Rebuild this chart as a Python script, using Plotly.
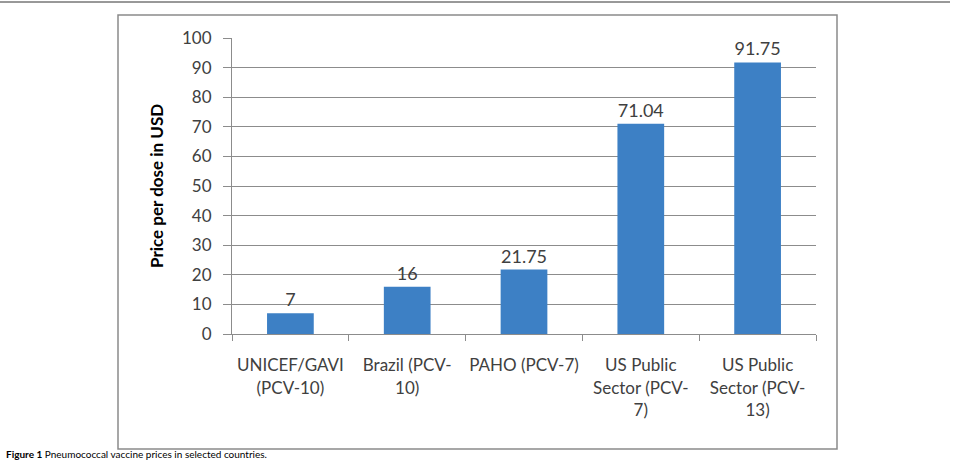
import plotly.graph_objects as go

categories = ["UNICEF/GAVI<br>(PCV-10)", "Brazil (PCV-<br>10)", "PAHO (PCV-7)",
              "US Public<br>Sector (PCV-<br>7)", "US Public<br>Sector (PCV-<br>13)"]
prices = [7, 16, 21.75, 71.04, 91.75]
price_labels = ["7", "16", "21.75", "71.04", "91.75"]
y_ticks = [0, 10, 20, 30, 40, 50, 60, 70, 80, 90, 100]

W, H = 957, 462
L, R, T, B = 232, 141, 38, 128
pw, ph = W - L - R, H - T - B

def px(x):
    return (x - L) / pw

def py(y):
    return (H - B - y) / ph

FONT = "Lato"
TXT = "#404040"

fig = go.Figure()
fig.add_trace(go.Bar(
    x=categories, y=prices, text=price_labels, textposition="outside",
    textfont=dict(family=FONT, size=18, color=TXT),
    marker=dict(color="#3D80C5", line=dict(width=0)),
    cliponaxis=False,
))

fig.update_layout(
    width=W, height=H,
    margin=dict(l=L, r=R, t=T, b=B),
    paper_bgcolor="white", plot_bgcolor="white",
    bargap=0.6, showlegend=False,
    font=dict(family=FONT, color=TXT),
    xaxis=dict(
        showline=True, linecolor="#8c8c8c", linewidth=1,
        ticks="outside", tickson="boundaries", ticklen=6, tickcolor="#8c8c8c",
        tickfont=dict(family=FONT, size=17, color=TXT),
        tickangle=0, automargin=False,
        ticklabelstandoff=16,
        showgrid=False,
    ),
    yaxis=dict(
        range=[0, 100], tickvals=y_ticks,
        showline=True, linecolor="#8c8c8c", linewidth=1,
        ticks="outside", ticklen=8, tickcolor="#8c8c8c",
        showgrid=True, gridcolor="#8c8c8c", gridwidth=1,
        zeroline=False, automargin=False,
        tickfont=dict(family=FONT, size=17, color=TXT),
        ticklabelstandoff=8,
    ),
    shapes=[
        dict(type="rect", xref="paper", yref="paper",
             x0=px(118), x1=px(837), y0=py(449), y1=py(15),
             line=dict(color="#8a8a8a", width=1.5), layer="below"),
        dict(type="line", xref="paper", yref="paper",
             x0=px(0), x1=px(950), y0=py(2), y1=py(2),
             line=dict(color="#333333", width=1)),
    ],
    annotations=[
        dict(text="<b>Price per dose in USD</b>", xref="paper", yref="paper",
             x=px(156), y=0.5, xanchor="center", yanchor="middle",
             textangle=-90, showarrow=False,
             font=dict(family=FONT, size=17, color="black")),
        dict(text="<b>Figure 1</b> Pneumococcal vaccine prices in selected countries.",
             xref="paper", yref="paper", x=px(4), y=py(462),
             xanchor="left", yanchor="bottom", showarrow=False,
             font=dict(family=FONT, size=10, color="black")),
    ],
)

fig.write_html("out.html")
